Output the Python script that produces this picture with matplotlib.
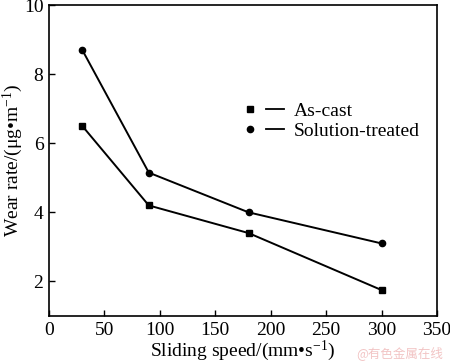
import matplotlib
matplotlib.use("Agg")
import matplotlib.pyplot as plt
from matplotlib.lines import Line2D
from matplotlib.legend_handler import HandlerTuple

plt.rcParams['font.family'] = ['Liberation Serif', 'DejaVu Serif']
plt.rcParams['mathtext.fontset'] = 'custom'
plt.rcParams['mathtext.rm'] = 'Liberation Serif'
plt.rcParams['mathtext.default'] = 'rm'

speed = [30, 90, 180, 300]
as_cast = [6.5, 4.2, 3.4, 1.75]
solution = [8.7, 5.15, 4.0, 3.1]
labels = ['As-cast', 'Solution-treated']

fig = plt.figure(figsize=(4.5, 3.64), dpi=100)
ax = fig.add_axes([0.109, 0.132, 0.862, 0.854])

ax.plot(speed, as_cast, color='black', lw=1.4, marker='s', ms=4.5)
ax.plot(speed, solution, color='black', lw=1.4, marker='o', ms=4.5)

ax.set_xlim(0, 350)
ax.set_ylim(1, 10)
ax.set_xticks(range(0, 351, 50))
ax.set_yticks([2, 4, 6, 8, 10])
ax.tick_params(direction='in', labelsize=14, length=4, width=1, pad=4)
for s in ax.spines.values():
    s.set_linewidth(1.2)

ax.set_xlabel('Sliding speed/(mm•s$^{-1}$)', fontsize=14, labelpad=0)
ax.set_ylabel('Wear rate/(μg•m$^{-1}$)', fontsize=14, labelpad=-1)

h1 = (Line2D([], [], color='black', marker='s', ms=4.5, ls='none'),
      Line2D([], [], color='black', lw=1.3))
h2 = (Line2D([], [], color='black', marker='o', ms=4.5, ls='none'),
      Line2D([], [], color='black', lw=1.3))
ax.legend([h1, h2], labels, handler_map={tuple: HandlerTuple(ndivide=None, pad=0.4)},
          loc='upper left', bbox_to_anchor=(0.46, 0.73), frameon=False,
          fontsize=14, handlelength=2.2, handletextpad=0.5, labelspacing=0.1,
          borderpad=0.2)

fig.text(0.985, 0.01, '@有色金属在线', color='#f2c4c4', fontsize=9,
         ha='right', va='bottom', family=['Noto Sans CJK SC', 'DejaVu Sans'])

fig.savefig('out.png', dpi=100)
